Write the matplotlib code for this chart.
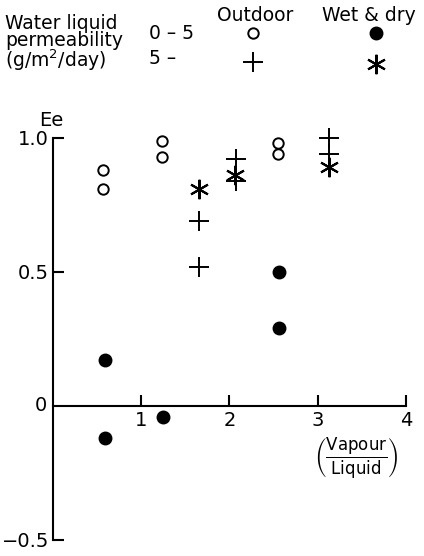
"""Effectiveness Ee against vapour/liquid ratio, outdoor and wet & dry exposure."""

import matplotlib

matplotlib.use("Agg")
import matplotlib.pyplot as plt

plt.rcParams["font.family"] = ["DejaVu Sans"]
plt.rcParams["mathtext.fontset"] = "dejavusans"

# Outdoor, water liquid permeability 0-5 (open circles)
outdoor_low_x = [0.57, 0.57, 1.24, 1.24, 2.55, 2.55]
outdoor_low_y = [0.88, 0.81, 0.99, 0.93, 0.98, 0.94]

# Outdoor, permeability 5- (plus)
outdoor_high_x = [1.66, 1.66, 2.07, 2.07, 3.13, 3.13]
outdoor_high_y = [0.69, 0.52, 0.92, 0.84, 1.00, 0.94]

# Wet & dry, permeability 0-5 (filled circles)
wetdry_low_x = [0.59, 0.59, 1.25, 2.56, 2.56]
wetdry_low_y = [0.17, -0.12, -0.04, 0.50, 0.29]

# Wet & dry, permeability 5- (asterisk)
wetdry_high_x = [1.66, 2.06, 3.13]
wetdry_high_y = [0.81, 0.86, 0.89]

x_ticks = [1, 2, 3, 4]
y_ticks = [-0.5, 0.5, 1.0]
y_tick_labels = ["\u22120.5", "0.5", "1.0"]

ASTERISK = (6, 2, 0)

fig = plt.figure(figsize=(4.24, 5.56), dpi=100)
ax = fig.add_axes([0.125, 0.029, 0.8325, 0.723])

ax.plot(outdoor_low_x, outdoor_low_y, "o", ms=7.5, mfc="white", mec="black", mew=1.4, clip_on=False)
ax.plot(outdoor_high_x, outdoor_high_y, "+", ms=14, mec="black", mew=1.4, clip_on=False)
ax.plot(wetdry_low_x, wetdry_low_y, "o", ms=9, mfc="black", mec="black", clip_on=False)
ax.plot(wetdry_high_x, wetdry_high_y, marker=ASTERISK, ls="none", ms=14, mec="black", mew=1.5, clip_on=False)

ax.set_xlim(0, 4)
ax.set_ylim(-0.5, 1.0)

for side in ("top", "right"):
    ax.spines[side].set_visible(False)
ax.spines["bottom"].set_position(("data", 0))
ax.spines["bottom"].set_bounds(0, 4)
ax.spines["left"].set_bounds(-0.5, 1.0)
ax.spines["bottom"].set_linewidth(1.5)
ax.spines["left"].set_linewidth(1.5)

ax.set_xticks(x_ticks)
ax.set_xticklabels([str(t) for t in x_ticks])
ax.set_yticks(y_ticks)
ax.set_yticklabels(y_tick_labels)
ax.tick_params(axis="x", direction="in", length=8, width=1.5, pad=4, labelsize=14)
ax.tick_params(axis="y", direction="in", length=8, width=1.5, pad=3, labelsize=14)

# the zero label sits on the y axis without a tick
ax.text(-0.07, 0, "0", ha="right", va="center", fontsize=14)
ax.text(-0.02, 1.03, "Ee", ha="center", va="bottom", fontsize=14)
ax.text(3.43, -0.195, r"$\left(\dfrac{\mathrm{Vapour}}{\mathrm{Liquid}}\right)$",
        ha="center", va="center", fontsize=12)

# key at the top of the figure
fig.text(0.012, 0.974, "Water liquid\npermeability\n(g/m$^2$/day)", ha="left", va="top",
         fontsize=13.5, linespacing=0.85)
fig.text(0.352, 0.94, "0 \u2013 5", ha="left", va="center", fontsize=13.5)
fig.text(0.352, 0.895, "5 \u2013", ha="left", va="center", fontsize=13.5)
fig.text(0.602, 0.973, "Outdoor", ha="center", va="center", fontsize=13.5)
fig.text(0.87, 0.973, "Wet & dry", ha="center", va="center", fontsize=13.5)

key_ax = fig.add_axes([0, 0, 1, 1], facecolor="none")
key_ax.set_xlim(0, 1)
key_ax.set_ylim(0, 1)
key_ax.axis("off")
key_ax.plot([0.597], [0.94], "o", ms=7.5, mfc="white", mec="black", mew=1.4)
key_ax.plot([0.597], [0.888], "+", ms=14, mec="black", mew=1.4)
key_ax.plot([0.887], [0.94], "o", ms=9, mfc="black", mec="black")
key_ax.plot([0.887], [0.885], marker=ASTERISK, ls="none", ms=14, mec="black", mew=1.5)

fig.savefig("out.png", dpi=100)
